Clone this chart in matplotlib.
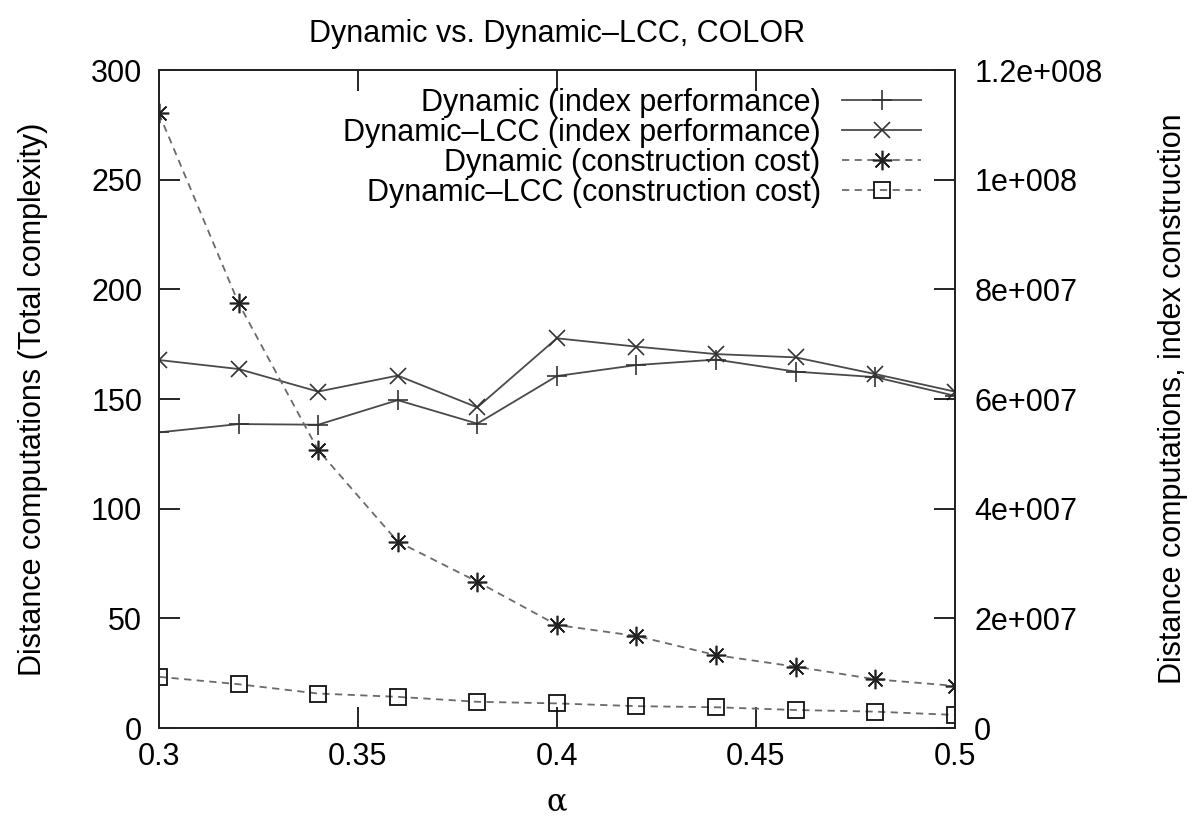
import matplotlib
matplotlib.use("Agg")
import matplotlib.pyplot as plt
from matplotlib.ticker import FuncFormatter

plt.rcParams['font.family'] = ['Liberation Sans', 'DejaVu Sans']

# alpha values on the x axis
alpha = [0.30, 0.32, 0.34, 0.36, 0.38, 0.40, 0.42, 0.44, 0.46, 0.48, 0.50]

# index performance (left axis, total complexity)
dyn_perf = [134.8, 138.6, 138.3, 149.5, 138.8, 160.5, 165.5, 168.0, 162.5, 160.0, 151.5]
lcc_perf = [167.8, 163.7, 153.4, 160.7, 146.2, 177.7, 173.9, 170.5, 169.0, 161.4, 153.4]

# construction cost (right axis)
dyn_cost = [1.121e8, 7.75e7, 5.07e7, 3.40e7, 2.67e7, 1.88e7, 1.68e7, 1.33e7, 1.12e7, 8.9e6, 7.7e6]
lcc_cost = [9.35e6, 8.0e6, 6.3e6, 5.7e6, 4.8e6, 4.5e6, 4.0e6, 3.8e6, 3.3e6, 3.0e6, 2.4e6]

labels = ["Dynamic (index performance)",
          "Dynamic\u2013LCC (index performance)",
          "Dynamic (construction cost)",
          "Dynamic\u2013LCC (construction cost)"]

fig = plt.figure(figsize=(11.95, 8.19), dpi=100)
ax = fig.add_axes([0.133, 0.111, 0.666, 0.8035])
ax2 = ax.twinx()

line_col = '#4a4a4a'
dash_col = '#6a6a6a'
fs = 22

l1, = ax.plot(alpha, dyn_perf, color=line_col, lw=1.3, marker='+', ms=14,
              mew=1.2, mec='#333333')
l2, = ax.plot(alpha, lcc_perf, color=line_col, lw=1.3, marker='x', ms=11,
              mew=1.2, mec='#333333')
l3, = ax2.plot(alpha, dyn_cost, color=dash_col, lw=1.3, ls=(0, (4, 3)),
               marker=(8, 2, 0), ms=14, mew=1.2, mec='#222222')
l4, = ax2.plot(alpha, lcc_cost, color=dash_col, lw=1.3, ls=(0, (4, 3)),
               marker='s', ms=12, mew=1.3, mfc='none', mec='#111111')

ax.set_xlim(0.3, 0.5)
ax.set_ylim(0, 300)
ax2.set_ylim(0, 1.2e8)

ax.set_xticks([0.3, 0.35, 0.4, 0.45, 0.5])
ax.set_xticklabels(["0.3", "0.35", "0.4", "0.45", "0.5"])
ax.set_yticks(range(0, 301, 50))
ax2.set_yticks([0, 2e7, 4e7, 6e7, 8e7, 1e8, 1.2e8])


def gp_fmt(v, pos):
    if v == 0:
        return "0"
    m, e = f"{v:.1e}".split("e")
    m = m.rstrip("0").rstrip(".")
    return f"{m}e+{int(e):03d}"


ax2.yaxis.set_major_formatter(FuncFormatter(gp_fmt))

ax.tick_params(axis='x', direction='in', length=15, width=1.2, labelsize=fs,
               top=True, pad=10)
ax.tick_params(axis='y', direction='in', length=15, width=1.2, labelsize=fs, pad=12)
ax2.tick_params(axis='y', direction='in', length=15, width=1.2, labelsize=fs, pad=14)

for a in (ax, ax2):
    for s in a.spines.values():
        s.set_linewidth(1.3)
        s.set_color('#222222')

ax.set_xlabel("\u03b1", fontsize=fs, family='DejaVu Serif', labelpad=10)
ax.set_ylabel("Distance computations (Total complexity)", fontsize=fs, labelpad=31)
ax2.set_ylabel("Distance computations, index construction", fontsize=fs,
               labelpad=40)
ax.set_title("Dynamic vs. Dynamic\u2013LCC, COLOR", fontsize=fs, pad=20)

ax.legend([l1, l2, l3, l4], labels, loc='upper right', frameon=False,
          markerfirst=False, fontsize=fs, handlelength=2.6, handletextpad=0.7,
          labelspacing=0.0, borderaxespad=0.3, bbox_to_anchor=(0.985, 1.005))

fig.savefig("out.png", dpi=100)
